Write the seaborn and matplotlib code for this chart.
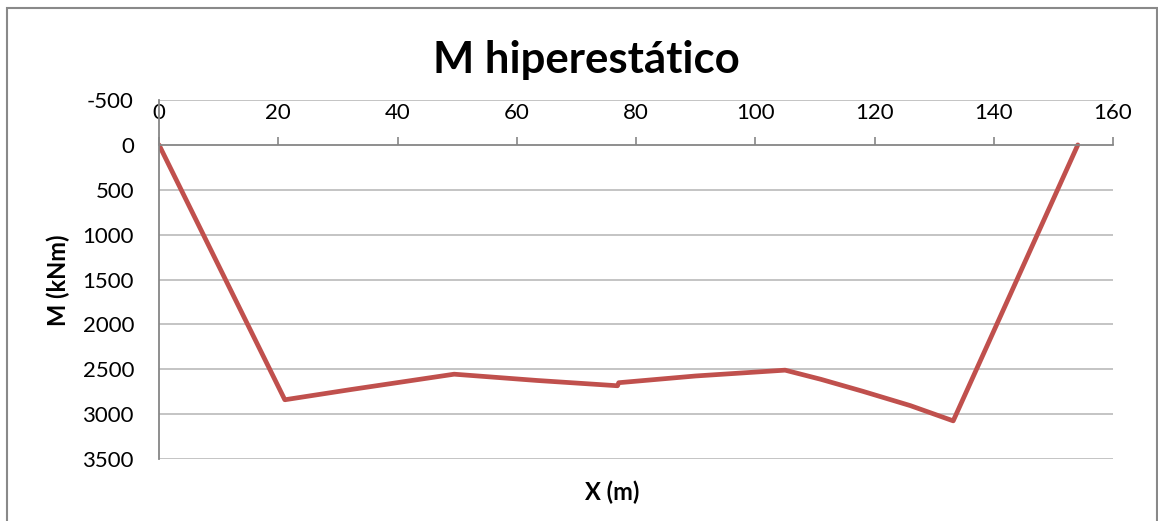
import matplotlib
matplotlib.use("Agg")
import matplotlib.pyplot as plt
import seaborn as sns
import pandas as pd
from matplotlib.patches import Rectangle

# ---- data ----
x_m = [0, 21.1, 32, 49.5, 63.4, 76.9, 77.1, 90, 105, 111, 118, 126, 133.2, 154.1]
m_kNm = [0, 2840, 2728, 2555, 2625, 2684, 2650, 2575, 2510, 2612, 2745, 2905, 3075, 0]
x_ticks = [0, 20, 40, 60, 80, 100, 120, 140, 160]
y_ticks = [-500, 0, 500, 1000, 1500, 2000, 2500, 3000, 3500]
title = "M hiperestático"
xlabel = "X (m)"
ylabel = "M (kNm)"

df = pd.DataFrame({"x": x_m, "M": m_kNm})

sns.set_style("white")
plt.rcParams["font.family"] = ["Lato", "DejaVu Sans"]
plt.rcParams["axes.unicode_minus"] = False

W, H = 1158, 521
fig = plt.figure(figsize=(W / 100, H / 100), dpi=100)
ax = fig.add_axes([159 / W, 1 - 459 / H, (1113 - 159) / W, (459 - 100) / H])

sns.lineplot(data=df, x="x", y="M", sort=False, estimator=None,
             color="#C0504D", linewidth=3.4, ax=ax)

ax.set_xlim(0, 160)
ax.set_ylim(3500, -500)
ax.set_xticks(x_ticks)
ax.set_yticks(y_ticks)
ax.set_xlabel("")
ax.set_ylabel("")

# gridlines
for v in y_ticks:
    if v != 0:
        ax.axhline(v, color="#BFBFBF", linewidth=1.3, zorder=0)

# spines
for s in ["right", "bottom"]:
    ax.spines[s].set_visible(False)
ax.spines["top"].set_position(("data", 0))
ax.spines["top"].set_color("#868686")
ax.spines["top"].set_linewidth(1.3)
ax.spines["left"].set_color("#868686")
ax.spines["left"].set_linewidth(1.3)

ax.xaxis.set_ticks_position("top")
ax.xaxis.set_label_position("top")
ax.tick_params(axis="x", direction="out", length=6, width=1.2, color="#868686",
               pad=10, labelsize=16, labelcolor="black")
ax.tick_params(axis="y", direction="out", length=5, width=1.2, color="#868686",
               pad=13, labelsize=16, labelcolor="black")

fig.text(586 / W, 1 - 60 / H, title, ha="center", va="center",
         fontsize=31.5, fontweight="bold", color="black")
fig.text(612 / W, 1 - 492 / H, xlabel, ha="center", va="center",
         fontsize=17, fontweight="bold", color="black")
fig.text(58 / W, 1 - 280 / H, ylabel, ha="center", va="center",
         fontsize=17, fontweight="bold", rotation=90, color="black")

# outer chart frame
fig.patches.append(Rectangle((7 / W, -0.2), (1157 - 7) / W, 1.2 - 8 / H,
                             transform=fig.transFigure, fill=False,
                             edgecolor="#898989", linewidth=1.5))

fig.savefig("out.png", dpi=100, facecolor="white")
